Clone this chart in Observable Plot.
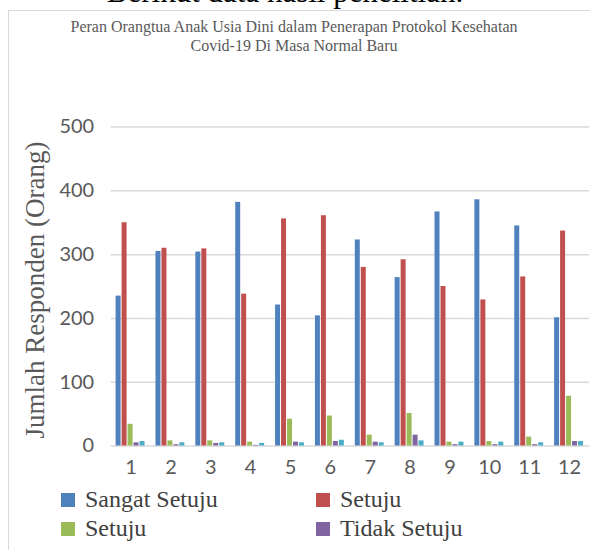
<!DOCTYPE html>
<html><head><meta charset="utf-8">
<script src="https://cdn.jsdelivr.net/npm/d3@7"></script>
<script src="https://cdn.jsdelivr.net/npm/@observablehq/plot@0.6"></script>
<style>
html,body{margin:0;padding:0;background:#fff;overflow:hidden}
#wrap{position:relative;width:590px;height:550px;overflow:hidden;background:#fff}
#frame{position:absolute;left:8px;top:10px;width:600px;height:600px;border:1px solid #d9d9d9;box-sizing:border-box}
#top{position:absolute;left:0;width:570px;text-align:center;top:-24px;height:31px;font-family:"Liberation Serif",serif;font-size:31px;line-height:31px;color:#000;white-space:nowrap}
#title{position:absolute;left:0;width:588px;text-align:center;top:18px;font-family:"Liberation Serif",serif;font-size:16px;line-height:18.5px;color:#595959}
#ylab{position:absolute;left:35px;top:290px;transform:translate(-50%,-50%) rotate(-90deg);font-family:"Liberation Serif",serif;font-size:27px;color:#595959;white-space:nowrap}
#chart{position:absolute;left:0;top:0}
.leg{position:absolute;font-family:"Liberation Serif",serif;font-size:24px;color:#404040;white-space:nowrap;line-height:24px}
.leg span.sw{display:inline-block;width:14px;height:14px;margin-right:10px;vertical-align:0px}
</style></head><body>
<div id="wrap">
  <div id="frame"></div>
  <div id="top">Berikut data hasil penelitian.</div>
  <div id="title">Peran Orangtua Anak Usia Dini dalam Penerapan Protokol Kesehatan<br>Covid-19 Di Masa Normal Baru</div>
  <div id="chart"></div>
  <div id="ylab">Jumlah Responden (Orang)</div>
  <div id="legend"></div>
</div>
<script>
const groups = ["1","2","3","4","5","6","7","8","9","10","11","12"];
const seriesKeys = ["s1","s2","s3","s4","s5"];
const seriesLabels = ["Sangat Setuju","Setuju","Setuju","Tidak Setuju","Sangat Tidak Setuju"];
const seriesColors = ["#4F81BD","#C0504D","#9BBB59","#8064A2","#4BACC6"];
const sangatSetuju = [235,305,304,382,221,204,323,264,367,386,345,201];
const setuju       = [350,310,309,238,356,361,280,292,250,229,265,337];
const setuju2      = [34,8,8,6,42,47,17,51,6,7,14,78];
const tidakSetuju  = [5,2,4,1,6,7,6,17,2,2,2,7];
const sangatTidak  = [7,5,5,4,5,9,5,8,6,6,5,7];
const yTicks = [0,100,200,300,400,500];
const legendShown = 4;

const valuesBySeries = [sangatSetuju, setuju, setuju2, tidakSetuju, sangatTidak];
const data = [];
groups.forEach((g, i) => seriesKeys.forEach((k, j) => data.push({group: g, key: k, value: valuesBySeries[j][i]})));

const chart = Plot.plot({
  width: 592, height: 550,
  marginLeft: 110, marginRight: 1, marginTop: 127, marginBottom: 103,
  style: {fontFamily: "Lato, sans-serif", fontSize: "20px", color: "#595959", background: "transparent"},
  fx: {domain: groups, paddingInner: 0, paddingOuter: 0, label: null, axis: "bottom", tickSize: 0, tickPadding: 14},
  x: {domain: seriesKeys, axis: null, paddingInner: 0.15, paddingOuter: 0.75},
  y: {domain: [0, 500], ticks: yTicks, label: null, tickSize: 0, tickPadding: 17},
  color: {domain: seriesKeys, range: seriesColors},
  marks: [
    Plot.ruleY(yTicks, {stroke: "#d9d9d9", strokeWidth: 1.5}),
    Plot.barY(data, {fx: "group", x: "key", y: "value", fill: "key"})
  ]
});
document.getElementById("chart").appendChild(chart);

const legend = document.getElementById("legend");
const legPos = [[61, 487], [316, 487], [61, 516], [316, 516]];
for (let j = 0; j < legendShown; j++) {
  const d = document.createElement("div");
  d.className = "leg";
  d.style.left = legPos[j][0] + "px";
  d.style.top = legPos[j][1] + "px";
  d.innerHTML = `<span class="sw" style="background:${seriesColors[j]}"></span>${seriesLabels[j]}`;
  legend.appendChild(d);
}
</script>
</body></html>
